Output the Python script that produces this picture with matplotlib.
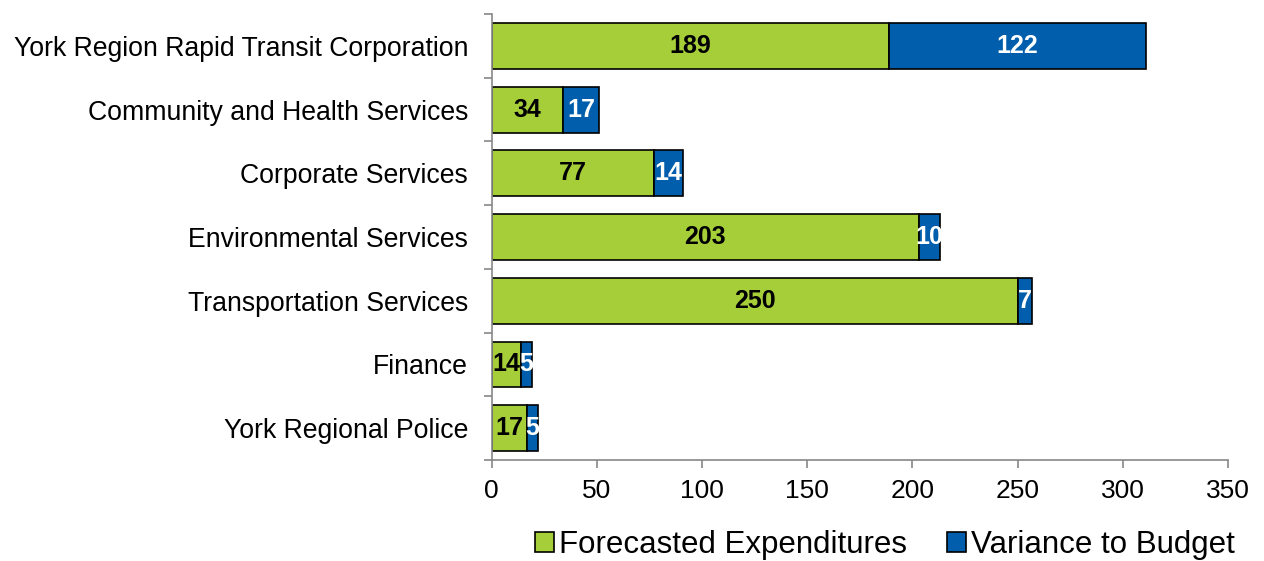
import numpy as np
import matplotlib.pyplot as plt

plt.rcParams['font.family'] = ['Liberation Sans', 'DejaVu Sans']

departments = ['York Region Rapid Transit Corporation', 'Community and Health Services',
               'Corporate Services', 'Environmental Services', 'Transportation Services',
               'Finance', 'York Regional Police']
forecast = [189, 34, 77, 203, 250, 14, 17]
variance = [122, 17, 14, 10, 7, 5, 5]

green = '#a6ce39'
blue = '#005eac'

fig = plt.figure(figsize=(12.64, 5.61), dpi=100)
ax = fig.add_axes([0.389, 0.18, 0.5825, 0.795])

y = np.arange(len(departments))
b1 = ax.barh(y, forecast, height=0.72, color=green, edgecolor='black', linewidth=1.2,
             label='Forecasted Expenditures')
b2 = ax.barh(y, variance, left=forecast, height=0.72, color=blue, edgecolor='black',
             linewidth=1.2, label='Variance to Budget')
ax.bar_label(b1, labels=[str(v) for v in forecast], label_type='center',
             fontsize=18, fontweight='bold', color='black')
ax.bar_label(b2, labels=[str(v) for v in variance], label_type='center',
             fontsize=18, fontweight='bold', color='white')

ax.set_xlim(0, 350)
ax.set_xticks(range(0, 351, 50))
ax.set_ylim(len(departments) - 0.5, -0.5)
ax.set_yticks(y)
ax.set_yticklabels(departments)
ax.set_yticks(np.arange(-0.5, len(departments)), minor=True)
ax.tick_params(axis='y', which='major', length=0, pad=17, labelsize=19.2)
ax.tick_params(axis='y', which='minor', length=6, color='#888888', width=1.2)
ax.tick_params(axis='x', length=6, color='#888888', width=1.2, labelsize=19, pad=8)

for s in ['top', 'right']:
    ax.spines[s].set_visible(False)
for s in ['left', 'bottom']:
    ax.spines[s].set_color('#888888')
    ax.spines[s].set_linewidth(1.2)

fig.legend(handles=[b1, b2], loc='center', bbox_to_anchor=(0.70, 0.028), ncol=2,
           frameon=False, fontsize=22.5, handlelength=0.6, handleheight=0.6,
           handletextpad=0.15, columnspacing=1.3, borderpad=0)

fig.savefig('out.png', dpi=100)
